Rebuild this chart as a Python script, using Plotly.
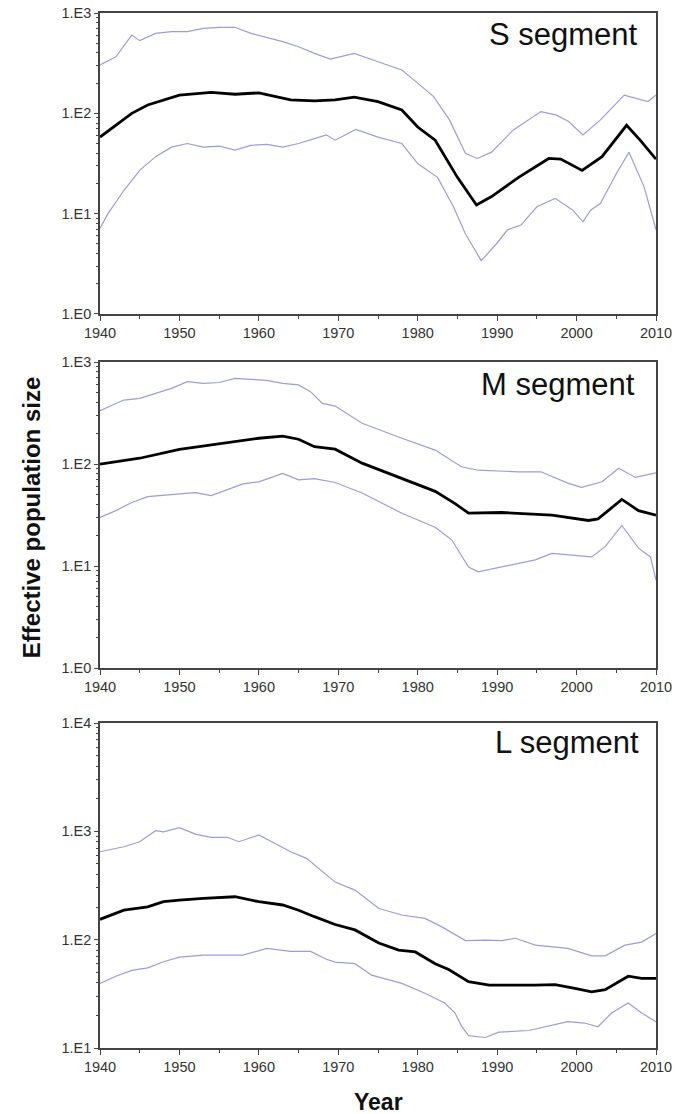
import plotly.graph_objects as go

# ---------------- data ----------------
s_up_years = [1940, 1942, 1944, 1945, 1947, 1949, 1951, 1953, 1955, 1957, 1959, 1961, 1963, 1965, 1967, 1969, 1972, 1975, 1978, 1980, 1982, 1984, 1986, 1987.5, 1989.3, 1992, 1995.5, 1997.5, 1999, 2000.8, 2003, 2006, 2009, 2010]
s_up_vals = [303, 366, 603, 530, 627, 652, 652, 703, 720, 720, 627, 571, 518, 461, 396, 347, 396, 327, 270, 200, 147, 86, 40, 35.5, 41, 68, 104, 96, 83, 61, 86, 152, 131, 152]

s_med_years = [1940, 1942, 1944, 1946, 1948, 1950, 1954, 1957, 1960, 1962, 1964, 1967, 1969.6, 1972, 1975, 1978, 1980, 1982.2, 1985, 1987.4, 1989.3, 1992.7, 1996.5, 1998, 2000.7, 2003.2, 2006.3, 2008, 2010]
s_med_vals = [58, 76, 100, 121, 136, 152, 162, 155, 160, 148, 136, 133, 136, 145, 131, 108, 73, 54, 23, 12.2, 14.8, 23, 35.5, 35, 27, 37, 76, 54, 35]

s_lo_years = [1940, 1941, 1943, 1945, 1947, 1949, 1951, 1953, 1955, 1957, 1959, 1961, 1963, 1965, 1967, 1968.5, 1969.6, 1972.2, 1975, 1978, 1980, 1982.5, 1984.5, 1986, 1988, 1990, 1991.3, 1993, 1995, 1997.3, 1999.5, 2000.8, 2001.8, 2003, 2005, 2006.6, 2008.5, 2010]
s_lo_vals = [7.1, 10, 17, 27, 37, 46, 50, 46, 47, 43, 48, 49, 46, 50, 56, 61, 54, 69, 58, 50, 31.6, 23, 11.7, 6.3, 3.4, 5.1, 6.9, 7.7, 11.7, 14.2, 10.9, 8.3, 10.9, 12.6, 25, 41, 18.5, 6.9]

m_up_years = [1940, 1943, 1945, 1947, 1949, 1951, 1953, 1955, 1957, 1959, 1961, 1963, 1965, 1966.5, 1968, 1969.6, 1973, 1978, 1982.2, 1985.5, 1987.6, 1992.6, 1995.5, 1998.9, 2000.6, 2003.2, 2005.3, 2007.4, 2010]
m_up_vals = [333, 424, 440, 493, 552, 641, 618, 630, 692, 676, 660, 618, 596, 512, 393, 370, 251, 179, 137, 94, 87, 84, 84, 65, 59, 67, 91, 74, 82]

m_med_years = [1940, 1945, 1950, 1955, 1960, 1963, 1965, 1967, 1969.6, 1973, 1978, 1982.2, 1984.7, 1986.4, 1990.6, 1996.9, 2001.5, 2002.7, 2005.7, 2007.8, 2010]
m_med_vals = [100, 114, 139, 157, 179, 188, 175, 148, 140, 102, 72, 54, 41, 33, 33.5, 31.6, 28, 29, 45, 35, 31.6]

m_lo_years = [1940, 1942, 1944, 1946, 1950, 1952, 1954, 1956, 1958, 1960, 1963, 1965, 1967, 1969.6, 1973, 1978, 1982.2, 1984.3, 1986.4, 1987.6, 1991.4, 1994.8, 1996.9, 2001.9, 2003.6, 2005.7, 2007.8, 2009.3, 2010]
m_lo_vals = [30, 35, 42, 48, 51, 52.5, 49, 56, 64, 67, 81, 70, 72, 66, 52, 33, 24, 18, 9.8, 8.8, 10.2, 11.5, 13.3, 12.3, 15.5, 25, 15, 12.3, 7.3]

l_up_years = [1940, 1943, 1945, 1947, 1948, 1950, 1952, 1954, 1956, 1957.5, 1960, 1962, 1964, 1966, 1968, 1969.6, 1972.1, 1975.1, 1978, 1980.9, 1983, 1986, 1988.5, 1990.6, 1992.3, 1994.8, 1998.9, 2001.9, 2003.6, 2006.1, 2008.2, 2010]
l_up_vals = [648, 721, 802, 1014, 990, 1080, 944, 881, 881, 802, 925, 774, 648, 563, 424, 340, 287, 194, 169, 157, 132, 98, 99, 98, 103, 89, 83, 71, 71, 89, 95, 114]

l_med_years = [1940, 1943, 1946, 1948, 1950, 1953, 1957, 1960, 1963, 1965, 1967, 1969.6, 1972.1, 1975.1, 1977.6, 1979.7, 1982.2, 1983.9, 1986.4, 1989, 1994.8, 1997.3, 1999.8, 2001.9, 2003.6, 2006.5, 2008.2, 2010]
l_med_vals = [154, 187, 201, 224, 232, 241, 249, 224, 209, 187, 163, 138, 123, 93, 80, 77, 60, 53, 41, 38, 38, 38.5, 35.5, 33, 34.5, 46, 44, 44]

l_lo_years = [1940, 1942, 1944, 1946, 1948, 1950, 1953, 1956, 1958, 1961, 1964, 1966.5, 1968.5, 1969.6, 1972.1, 1974.2, 1978, 1980.9, 1983.4, 1984.7, 1985.5, 1986.4, 1988.5, 1990.2, 1994, 1998.9, 2001, 2002.7, 2004.4, 2006.5, 2008.2, 2010]
l_lo_vals = [39.5, 46, 52, 55, 62.5, 69, 72, 72, 72, 83, 78, 78, 66, 62, 60, 47, 39.5, 32, 26, 21, 16, 13, 12.5, 14, 14.5, 17.5, 17, 15.7, 21, 26, 21, 17.5]

panel_names = ["S segment", "M segment", "L segment"]
x_ticks = [1940, 1950, 1960, 1970, 1980, 1990, 2000, 2010]
y_tick_vals = [1, 10, 100, 1000, 10000]
y_tick_text = ["1.E0", "1.E1", "1.E2", "1.E3", "1.E4"]

# ---------------- figure ----------------
BOUND = "#9d9dd6"
MED = "#000000"
AX = "#444444"
FONT = "Liberation Sans, Arial, sans-serif"

panels = [
    (s_up_years, s_up_vals, s_med_years, s_med_vals, s_lo_years, s_lo_vals),
    (m_up_years, m_up_vals, m_med_years, m_med_vals, m_lo_years, m_lo_vals),
    (l_up_years, l_up_vals, l_med_years, l_med_vals, l_lo_years, l_lo_vals),
]

fig = go.Figure()
for i, (uy, uv, my, mv, ly, lv) in enumerate(panels):
    ax = "" if i == 0 else str(i + 1)
    fig.add_trace(go.Scatter(x=uy, y=uv, mode="lines", line=dict(color=BOUND, width=1.2),
                             xaxis="x" + ax, yaxis="y" + ax, showlegend=False))
    fig.add_trace(go.Scatter(x=ly, y=lv, mode="lines", line=dict(color=BOUND, width=1.2),
                             xaxis="x" + ax, yaxis="y" + ax, showlegend=False))
    fig.add_trace(go.Scatter(x=my, y=mv, mode="lines", line=dict(color=MED, width=2.8),
                             xaxis="x" + ax, yaxis="y" + ax, showlegend=False))

domains = [[0.7092, 1.0], [0.367, 0.6628], [0.0, 0.314]]
yranges = [[0, 3], [0, 3], [1, 4]]

minor_vals = [m * 10 ** e for e in range(0, 4) for m in range(2, 10)]

layout = dict(
    width=675, height=1114, autosize=False,
    margin=dict(l=100, r=19, t=13, b=66, autoexpand=False),
    paper_bgcolor="white", plot_bgcolor="white",
    font=dict(family=FONT, color="#333333", size=14),
    showlegend=False,
)

for i in range(3):
    sfx = "" if i == 0 else str(i + 1)
    layout["xaxis" + sfx] = dict(
        domain=[0, 1], anchor="y" + sfx, range=[1940, 2010], automargin=False,
        tickmode="array", tickvals=x_ticks, ticktext=[str(t) for t in x_ticks],
        ticks="outside", ticklen=5, tickwidth=1.3, tickcolor=AX,
        minor=dict(tickmode="array", tickvals=[1945, 1955, 1965, 1975, 1985, 1995, 2005],
                   ticks="outside", ticklen=3, tickcolor=AX, tickwidth=1),
        showline=True, linecolor=AX, linewidth=1.6, mirror=True,
        showgrid=False, zeroline=False,
        tickfont=dict(size=14.5, family=FONT, color="#333333"),
    )
    layout["yaxis" + sfx] = dict(
        domain=domains[i], anchor="x" + sfx, type="log", range=yranges[i], automargin=False,
        tickmode="array", tickvals=y_tick_vals, ticktext=y_tick_text,
        ticks="outside", ticklen=4, tickwidth=1.3, tickcolor=AX,
        minor=dict(tickmode="array", tickvals=minor_vals,
                   ticks="outside", ticklen=2, tickcolor=AX, tickwidth=1),
        showline=True, linecolor=AX, linewidth=1.6, mirror=True,
        showgrid=False, zeroline=False,
        tickfont=dict(size=14.5, family=FONT, color="#333333"),
    )

fig.update_layout(**layout)

label_pos = [(0.971, 0.979), (0.966, 0.641), (0.973, 0.295)]
for name, (px, py) in zip(panel_names, label_pos):
    fig.add_annotation(text=name, xref="paper", yref="paper", x=px, y=py,
                       xanchor="right", yanchor="middle", showarrow=False,
                       font=dict(size=31, family=FONT, color="#111111"))

fig.add_annotation(text="<b>Effective population size</b>", xref="paper", yref="paper",
                   x=-0.124, y=0.512, textangle=-90, showarrow=False,
                   xanchor="center", yanchor="middle",
                   font=dict(size=24, family=FONT, color="#111111"))
fig.add_annotation(text="<b>Year</b>", xref="paper", yref="paper",
                   x=0.5, y=-0.052, showarrow=False, xanchor="center", yanchor="middle",
                   font=dict(size=23, family=FONT, color="#111111"))

fig.write_html("out.html", config={"displayModeBar": False},
               post_script="document.body.style.margin='0px';document.body.style.overflow='hidden';")
